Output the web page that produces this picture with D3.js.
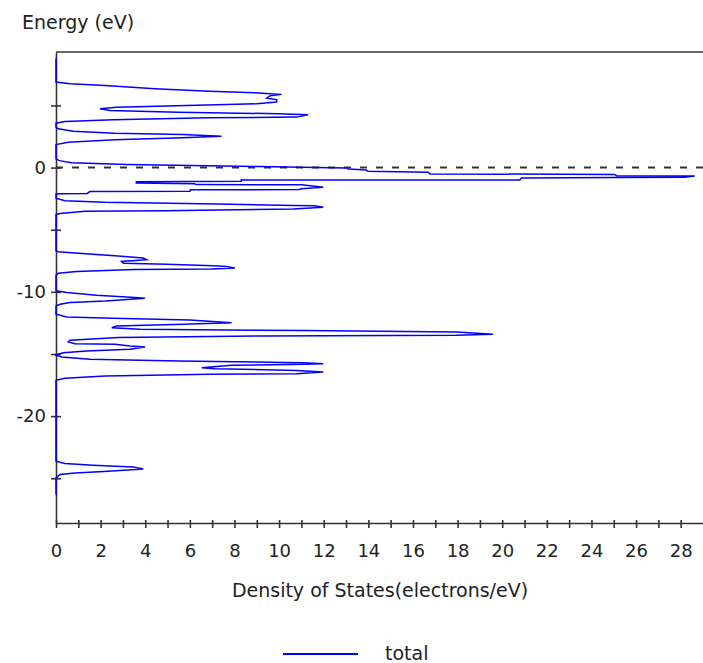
<!DOCTYPE html>
<html>
<head>
<meta charset="utf-8">
<script src="https://cdn.jsdelivr.net/npm/d3@7"></script>
<style>
  body { margin: 0; background: #fff; }
  text { font-family: "DejaVu Sans", sans-serif; fill: #222; }
</style>
</head>
<body>
<div class="canvas"></div>
<script>
// energy levels (eV), top to bottom, and density of states at each
const energy = [
  8.8, 6.88, 6.75, 6.61, 6.35, 6.15, 6.02, 5.89, 5.78, 5.6, 5.45, 5.27, 5.13, 5.0, 4.86, 4.73,
  4.6, 4.46, 4.33, 4.25, 4.06, 4.0, 3.84, 3.71, 3.57, 3.25, 3.12, 2.93, 2.77, 2.66, 2.53, 2.39,
  2.23, 2.04, 1.85, 0.7, 0.56, 0.38, 0.24, 0.08, -0.03, -0.11, -0.2, -0.3, -0.38, -0.51, -0.55,
  -0.65, -0.68, -0.78, -0.8, -0.83, -0.99, -1.0, -1.1, -1.15, -1.25, -1.3, -1.37, -1.39, -1.45,
  -1.58, -1.7, -1.77, -1.79, -1.9, -1.93, -2.08, -2.1, -2.12, -2.46, -2.66, -2.8, -2.93, -3.06,
  -3.08, -3.2, -3.33, -3.47, -3.52, -3.69, -3.79, -6.69, -6.77, -6.88, -7.1, -7.28, -7.42, -7.55,
  -7.69, -7.77, -7.9, -7.96, -8.09, -8.17, -8.2, -8.36, -8.5, -8.65, -9.92, -10.06, -10.27,
  -10.46, -10.51, -10.73, -10.86, -11.0, -11.13, -11.8, -12.02, -12.12, -12.26, -12.48, -12.61,
  -12.74, -12.88, -13.0, -13.12, -13.23, -13.41, -13.49, -13.55, -13.68, -13.9, -14.03, -14.17,
  -14.22, -14.35, -14.44, -14.62, -14.76, -14.9, -15.02, -15.1, -15.24, -15.43, -15.56, -15.7,
  -15.78, -15.83, -15.91, -16.1, -16.18, -16.32, -16.45, -16.59, -16.64, -16.77, -16.96, -17.12,
  -23.63, -23.82, -23.95, -24.09, -24.25, -24.44, -24.57, -24.7, -24.97, -26.3
];
const dos = [
  0, 0, 0.63, 2.2, 4.43, 6.87, 8.92, 10.11, 9.6, 9.45, 9.9, 9.89, 8.99, 5.85, 2.72, 1.97,
  2.42, 5.48, 9.96, 11.3, 10.78, 6.82, 2.57, 0.4, 0, 0, 0.1, 0.78, 2.64, 5.67, 7.42, 5.67,
  2.64, 0.55, 0, 0, 0.15, 0.7, 3.17, 9.06, 13.02, 13.1, 13.9, 13.99, 16.68, 16.76, 25.04,
  25.12, 28.63, 28.18, 25.1, 20.86, 20.79, 8.3, 8.3, 3.6, 3.6, 6.2, 6.3, 11.0, 11.3,
  11.98, 11.0, 10.9, 6.03, 6.0, 1.52, 1.4, 0.18, 0, 0, 0.4, 2.2, 7.27, 10.63,
  11.6, 11.98, 10.63, 4.88, 1.3, 0.18, 0, 0, 0.1, 0.85, 2.64, 3.91, 4.06, 2.94,
  3.02, 4.96, 7.05, 7.65, 8.02, 6.97, 3.54, 0.93, 0.1, 0, 0, 0.48, 1.82,
  3.54, 3.99, 2.2, 0.63, 0.18, 0, 0, 0.48, 2.57, 6.0, 7.87, 5.7,
  2.72, 2.5, 3.76, 11.16, 17.95, 19.59, 17.95, 9.21, 2.79, 0.63, 0.55, 0.85,
  2.64, 3.32, 3.99, 3.32, 1.37, 0.33, 0.1, 0, 0.25, 1.52, 5.48, 11.08,
  11.98, 11.08, 7.87, 6.53, 7.12, 10.78, 11.98, 10.78, 6.9, 2.2, 0.4, 0,
  0, 0.4, 1.67, 3.46, 3.91, 2.34, 0.85, 0.18, 0, 0
];
const xTicks = d3.range(0, 29, 1);
const yTicks = [5, 0, -5, -10, -15, -20, -25];
const seriesName = "total";

const svg = d3
  .select(".canvas")
  .append("svg")
  .attr("width", 703)
  .attr("height", 663);

const x = d3.scaleLinear().domain([0, 29]).range([56, 703]);
const y = d3.scaleLinear().domain([-28.6, 9.3]).range([523, 52]);

const points = energy.map((e, i) => ({ e, d: dos[i] }));

// fermi level
svg
  .append("line")
  .attr("x1", x(0))
  .attr("x2", x(29))
  .attr("y1", y(0))
  .attr("y2", y(0))
  .attr("stroke", "#333")
  .attr("stroke-width", 2)
  .attr("stroke-dasharray", "7,9");

// top border
svg
  .append("line")
  .attr("x1", x(0))
  .attr("x2", x(29))
  .attr("y1", y(9.3))
  .attr("y2", y(9.3))
  .attr("stroke", "#333")
  .attr("stroke-width", 1.6);

const xAxis = d3
  .axisBottom(x)
  .tickValues(xTicks)
  .tickSizeOuter(0)
  .tickFormat((d) => (d % 2 === 0 ? d : ""));
const yAxis = d3
  .axisLeft(y)
  .tickValues(yTicks)
  .tickSizeOuter(0)
  .tickFormat((d) => (d % 10 === 0 ? d : ""));

const xAxisGroup = svg.append("g").attr("transform", `translate(0, ${y(-28.6)})`).call(xAxis);
const yAxisGroup = svg.append("g").attr("transform", `translate(${x(0)}, 0)`).call(yAxis);

[xAxisGroup, yAxisGroup].forEach((g) => {
  g.select(".domain").attr("stroke", "#333").attr("stroke-width", 1.6);
  g.selectAll(".tick line").attr("stroke", "#333").attr("stroke-width", 1.6);
});
xAxisGroup.selectAll(".tick line").attr("y1", -3).attr("y2", 5);
xAxisGroup
  .selectAll(".tick text")
  .attr("y", 28)
  .attr("dy", "0.35em")
  .attr("font-size", 18)
  .attr("font-family", "DejaVu Sans");
yAxisGroup.selectAll(".tick line").attr("x1", -5).attr("x2", 5);
yAxisGroup
  .selectAll(".tick text")
  .attr("x", -10)
  .attr("font-size", 18)
  .attr("font-family", "DejaVu Sans");

// dos curve
const line = d3
  .line()
  .x((p) => x(p.d))
  .y((p) => y(p.e));

svg
  .append("path")
  .datum(points)
  .attr("d", line)
  .attr("fill", "none")
  .attr("stroke", "#0000ff")
  .attr("stroke-width", 1.5);

// labels
svg.append("text").attr("x", 22).attr("y", 29).attr("font-size", 19).text("Energy (eV)");
svg
  .append("text")
  .attr("x", 380)
  .attr("y", 597)
  .attr("text-anchor", "middle")
  .attr("font-size", 19)
  .text("Density of States(electrons/eV)");

// legend
svg
  .append("line")
  .attr("x1", 283)
  .attr("x2", 358)
  .attr("y1", 654)
  .attr("y2", 654)
  .attr("stroke", "#0000ff")
  .attr("stroke-width", 2);
svg.append("text").attr("x", 385).attr("y", 660).attr("font-size", 19).text(seriesName);
</script>
</body>
</html>
